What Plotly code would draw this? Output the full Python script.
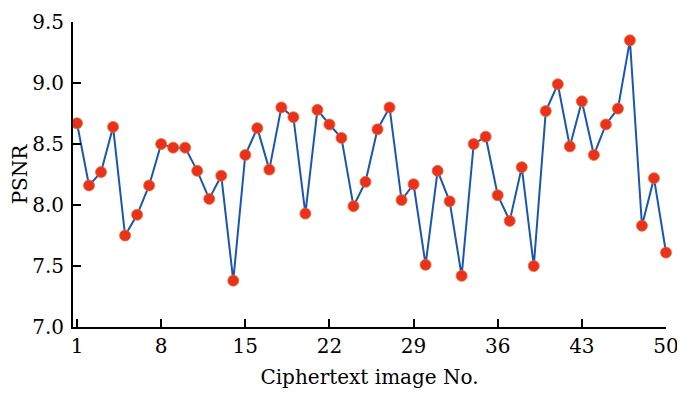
import plotly.graph_objects as go

image_no = list(range(1, 51))
psnr = [8.67, 8.16, 8.27, 8.64, 7.75, 7.92, 8.16, 8.50, 8.47, 8.47,
        8.28, 8.05, 8.24, 7.38, 8.41, 8.63, 8.29, 8.80, 8.72, 7.93,
        8.78, 8.66, 8.55, 7.99, 8.19, 8.62, 8.80, 8.04, 8.17, 7.51,
        8.28, 8.03, 7.42, 8.50, 8.56, 8.08, 7.87, 8.31, 7.50, 8.77,
        8.99, 8.48, 8.85, 8.41, 8.66, 8.79, 9.35, 7.83, 8.22, 7.61]
x_ticks = [1, 8, 15, 22, 29, 36, 43, 50]
y_ticks = [7.0, 7.5, 8.0, 8.5, 9.0, 9.5]

font_family = "DejaVu Serif"

fig = go.Figure(go.Scatter(
    x=image_no, y=psnr, mode="lines+markers",
    line=dict(color="#1a56b0", width=2),
    marker=dict(color="#e8321e", size=11, line=dict(color="#f06a28", width=0.8)),
    cliponaxis=False,
))

# page body has an 8px margin, so the figure is 8px smaller than the window
fig.update_layout(
    width=677, height=389,
    margin=dict(l=65, r=19, t=14, b=70),
    paper_bgcolor="white", plot_bgcolor="white",
    showlegend=False,
    font=dict(family=font_family, size=20, color="black"),
)
fig.update_xaxes(
    range=[0.667, 50], tickvals=x_ticks, ticktext=[str(v) for v in x_ticks],
    showline=True, linecolor="black", linewidth=2, mirror=False,
    ticks="inside", ticklen=8, tickwidth=1.5, tickcolor="black",
    showgrid=False, zeroline=False, automargin=False,
    title=dict(text="Ciphertext image No.", standoff=13, font=dict(size=20)),
)
fig.update_yaxes(
    range=[7.0, 9.5], tickvals=y_ticks, ticktext=[f"{v:.1f}" for v in y_ticks],
    showline=True, linecolor="black", linewidth=2, mirror=False,
    ticks="inside", ticklen=8, tickwidth=1.5, tickcolor="black",
    ticklabelstandoff=3,
    showgrid=False, zeroline=False, automargin=False,
    title=dict(text="PSNR", standoff=6, font=dict(size=20)),
)

fig.write_html("out.html")
